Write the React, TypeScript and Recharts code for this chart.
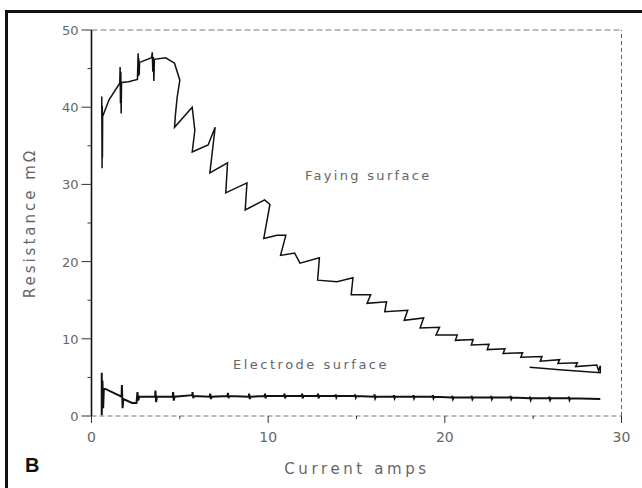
import React from 'react';
import { LineChart, Line, XAxis, YAxis, ReferenceLine } from 'recharts';

// faying surface trace, [current amps, resistance mOhm]
const fayingPoints: [number, number][] = [
  [0.58, 41.4], [0.6, 32.1], [0.61, 40.2], [0.62, 33.5], [0.63, 38.8], [1.0, 41.0], [1.6, 43.1], [1.62, 45.2],
  [1.64, 40.5], [1.66, 44.6], [1.68, 39.2], [1.7, 43.2], [2.1, 43.3], [2.6, 43.6], [2.64, 47.0], [2.66, 44.0],
  [2.68, 46.3], [2.7, 44.2], [2.72, 45.8], [3.4, 46.4], [3.44, 47.1], [3.47, 44.6], [3.5, 46.5], [3.53, 43.4],
  [3.56, 46.2], [4.2, 46.4], [4.7, 45.7], [5.0, 43.5], [4.85, 41.3], [4.75, 39.0], [4.7, 37.4], [5.7, 40.0],
  [5.85, 37.0], [5.7, 34.2], [6.6, 35.1], [7.0, 37.4], [6.7, 31.5], [7.7, 32.8], [7.6, 28.9], [8.8, 30.2],
  [8.7, 26.7], [9.8, 28.0], [10.1, 27.4], [9.75, 23.0], [10.5, 23.4], [11.0, 23.4], [10.7, 20.8], [11.5, 21.1],
  [11.8, 19.8], [12.9, 20.5], [12.8, 17.6], [13.9, 17.4], [14.8, 17.9], [14.7, 15.7], [15.8, 15.7], [15.6, 14.6],
  [16.7, 14.8], [16.6, 13.5], [17.9, 13.7], [17.7, 12.4], [18.8, 12.7], [18.6, 11.4], [19.7, 11.5], [19.5, 10.5],
  [20.7, 10.5], [20.6, 9.8], [21.6, 9.9], [21.5, 9.2], [22.5, 9.3], [22.4, 8.6], [23.4, 8.7], [23.3, 8.1],
  [24.4, 8.2], [24.3, 7.6], [25.5, 7.7], [25.4, 7.1], [26.5, 7.3], [26.4, 6.8], [27.5, 6.9], [27.4, 6.4],
  [28.6, 6.6], [28.7, 5.9], [28.8, 6.5], [28.8, 5.6], [26.5, 6.0], [24.8, 6.3],
];

// electrode surface trace
const electrodePoints: [number, number][] = [
  [0.58, 5.6], [0.58, 0.1], [0.62, 4.6], [0.66, 1.0], [0.7, 3.6], [1.7, 2.5], [1.72, 4.0], [1.76, 1.0],
  [1.8, 2.2], [2.3, 1.7], [2.55, 1.7], [2.6, 3.1], [2.65, 2.0], [2.7, 2.5], [3.6, 2.5], [3.62, 3.3],
  [3.66, 1.8], [3.7, 2.5], [4.6, 2.5], [4.62, 3.1], [4.66, 2.0], [4.7, 2.5], [5.7, 2.7], [5.72, 3.1],
  [5.76, 2.3], [5.8, 2.6], [6.7, 2.5], [6.72, 2.9], [6.76, 2.2], [6.8, 2.5], [7.7, 2.6], [7.72, 3.0],
  [7.76, 2.3], [7.8, 2.6], [8.9, 2.5], [8.92, 2.9], [8.96, 2.2], [9.0, 2.5], [9.8, 2.6], [9.82, 2.9],
  [9.86, 2.3], [9.9, 2.6], [10.9, 2.6], [10.92, 2.9], [10.96, 2.3], [11.0, 2.6], [11.9, 2.6], [11.92, 2.9],
  [11.96, 2.3], [12.0, 2.6], [12.8, 2.6], [12.82, 2.9], [12.86, 2.3], [12.9, 2.6], [13.8, 2.6], [13.82, 2.8],
  [13.86, 2.4], [13.9, 2.6], [14.9, 2.6], [14.92, 2.8], [14.96, 2.4], [15.0, 2.6], [16.0, 2.5], [16.02, 2.8],
  [16.06, 2.3], [16.1, 2.5], [17.1, 2.5], [17.12, 2.7], [17.16, 2.3], [17.2, 2.5], [18.2, 2.5], [18.22, 2.7],
  [18.26, 2.3], [18.3, 2.5], [19.3, 2.5], [19.32, 2.7], [19.36, 2.3], [19.4, 2.5], [20.4, 2.4], [20.42, 2.6],
  [20.46, 2.2], [20.5, 2.4], [21.5, 2.4], [21.52, 2.6], [21.56, 2.2], [21.6, 2.4], [22.6, 2.4], [22.62, 2.6],
  [22.66, 2.2], [22.7, 2.4], [23.7, 2.4], [23.72, 2.6], [23.76, 2.2], [23.8, 2.4], [24.8, 2.3], [24.82, 2.5],
  [24.86, 2.1], [24.9, 2.3], [25.9, 2.3], [25.92, 2.5], [25.96, 2.1], [26.0, 2.3], [27.0, 2.3], [27.02, 2.5],
  [27.06, 2.1], [27.1, 2.3], [28.8, 2.2],
];

const xTicks = [0, 5, 10, 15, 20, 25, 30];
const yTicks = [0, 5, 10, 15, 20, 25, 30, 35, 40, 45, 50];

const toRows = (pts: [number, number][]) => pts.map(([x, y]) => ({ x, y }));

const labelFont = '"DejaVu Sans", sans-serif';
const grey = '#666';

const YTick = ({ x, y, payload }: any) => {
  const major = payload.value % 10 === 0;
  return (
    <g>
      <line x1={x} x2={x - (major ? 10 : 4)} y1={y} y2={y} stroke="#333" strokeWidth={1} />
      {major && (
        <text x={x - 13} y={y} dy={5} textAnchor="end" fontSize={13} fontFamily={labelFont} fill={grey}>
          {payload.value}
        </text>
      )}
    </g>
  );
};

const XTick = ({ x, y, payload }: any) => {
  const major = payload.value % 10 === 0;
  return (
    <g>
      <line x1={x} x2={x} y1={y} y2={y + (major ? 7 : 3)} stroke="#333" strokeWidth={1} />
      {major && (
        <text x={x} y={y + 26} textAnchor="middle" fontSize={14} fontFamily={labelFont} fill={grey}>
          {payload.value}
        </text>
      )}
    </g>
  );
};

const textStyle: React.CSSProperties = {
  position: 'absolute',
  fontFamily: labelFont,
  color: grey,
  whiteSpace: 'nowrap',
  lineHeight: 1,
};

export default function App() {
  return (
    <div style={{ position: 'absolute', left: 0, top: 0, width: 642, height: 488, background: '#fff', overflow: 'hidden' }}>
      <div style={{ position: 'absolute', left: 5, top: 10, right: -5, bottom: -5, borderLeft: '3px solid #111', borderTop: '3px solid #111' }} />
      <LineChart width={642} height={488} margin={{ top: 30, right: 20.5, bottom: 42, left: 31.5 }}>
        <XAxis
          type="number"
          dataKey="x"
          domain={[0, 30]}
          ticks={xTicks}
          allowDataOverflow
          height={30}
          tickSize={0}
          tickMargin={0}
          tickLine={false}
          tick={<XTick />}
          axisLine={{ stroke: '#777', strokeDasharray: '5 3' }}
        />
        <YAxis
          type="number"
          domain={[0, 50]}
          ticks={yTicks}
          allowDataOverflow
          width={60}
          tickSize={0}
          tickMargin={0}
          tickLine={false}
          tick={<YTick />}
          axisLine={{ stroke: '#111', strokeWidth: 1.6 }}
        />
        <ReferenceLine y={50} stroke="#777" strokeDasharray="6 3" />
        <ReferenceLine x={30} stroke="#666" strokeDasharray="4 3" />
        <Line
          data={toRows(fayingPoints)}
          dataKey="y"
          type="linear"
          stroke="#111"
          strokeWidth={1.5}
          dot={false}
          isAnimationActive={false}
        />
        <Line
          data={toRows(electrodePoints)}
          dataKey="y"
          type="linear"
          stroke="#111"
          strokeWidth={2}
          dot={false}
          isAnimationActive={false}
        />
      </LineChart>
      <div style={{ ...textStyle, left: 305, top: 169, fontSize: 13, letterSpacing: 2.3 }}>Faying surface</div>
      <div style={{ ...textStyle, left: 233, top: 358, fontSize: 13, letterSpacing: 2.5 }}>Electrode surface</div>
      <div style={{ ...textStyle, left: 357, top: 462, fontSize: 15, letterSpacing: 3.6, transform: 'translateX(-50%)' }}>Current amps</div>
      <div
        style={{
          ...textStyle,
          left: 30,
          top: 223,
          fontSize: 15,
          letterSpacing: 3,
          transform: 'translate(-50%, -50%) rotate(-90deg)',
        }}
      >
        Resistance mΩ
      </div>
      <div style={{ ...textStyle, left: 25, top: 455, fontSize: 20, fontWeight: 'bold', color: '#111', fontFamily: '"Liberation Sans", Arial, sans-serif' }}>B</div>
    </div>
  );
}
